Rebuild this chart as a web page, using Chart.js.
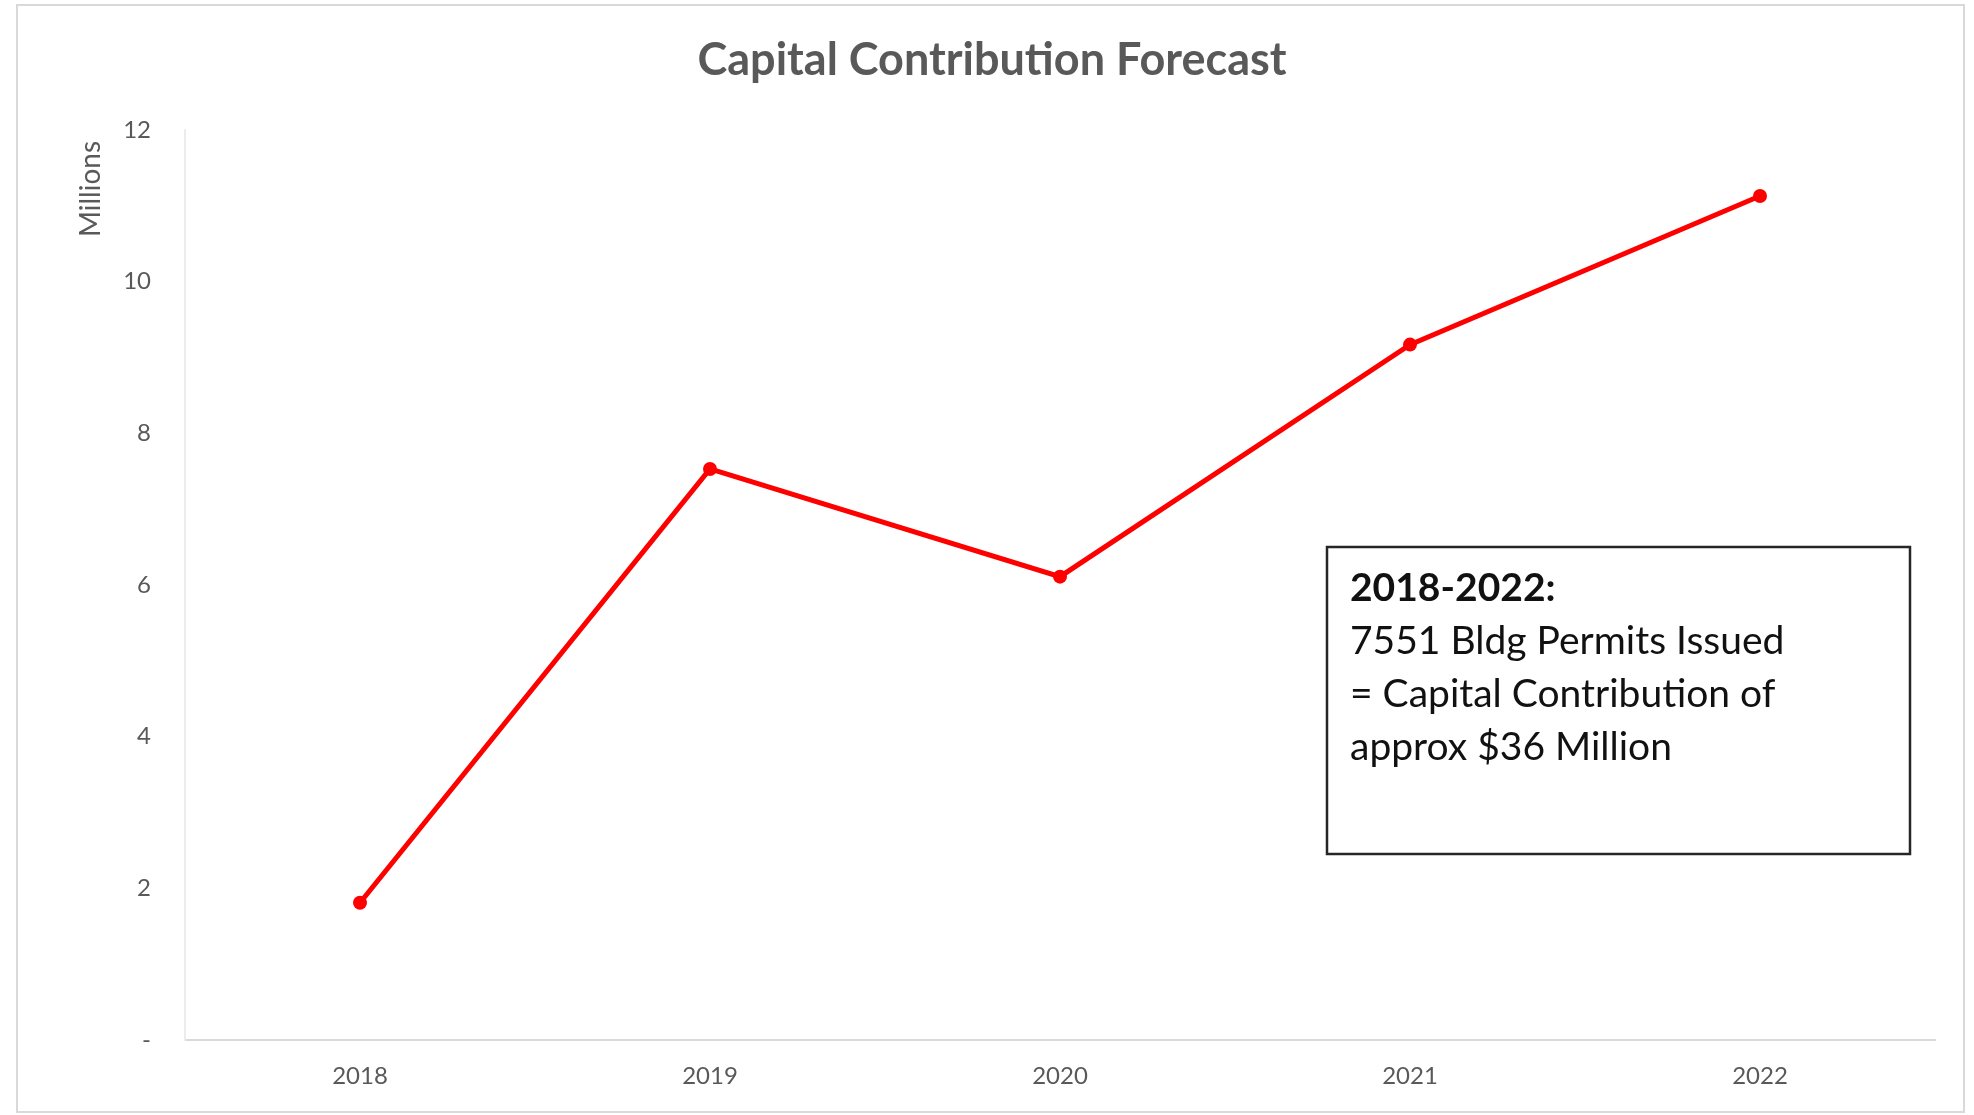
<!DOCTYPE html>
<html>
<head>
<meta charset="utf-8">
<script src="https://cdn.jsdelivr.net/npm/chart.js@4/dist/chart.umd.min.js"></script>
<style>
  html, body { margin: 0; padding: 0; background: #ffffff; }
  #wrap { width: 1974px; height: 1115px; }
</style>
</head>
<body>
<div id="wrap"><canvas id="chart" width="1974" height="1115"></canvas></div>
<script>
// chart values (millions)
var years = ["2018", "2019", "2020", "2021", "2022"];
var contribution = [1.81, 7.53, 6.11, 9.17, 11.13];
var yTicks = [0, 2, 4, 6, 8, 10, 12];

var titleText = "Capital Contribution Forecast";
var unitLabel = "Millions";
var noteLines = ["2018-2022:", "7551 Bldg Permits Issued", "= Capital Contribution of", "approx $36 Million"];

var FONT = "Lato, 'Open Sans', sans-serif";

// frame, title, unit label and the note box
var decorations = {
    id: 'decorations',
    beforeDraw: function(chart) {
        var c = chart.ctx;
        c.save();
        c.fillStyle = '#ffffff';
        c.fillRect(0, 0, chart.width, chart.height);
        c.strokeStyle = '#d9d9d9';
        c.lineWidth = 2;
        c.strokeRect(17, 5, 1947, 1107);
        c.restore();
    },
    afterDraw: function(chart) {
        var c = chart.ctx;
        c.save();
        // title
        c.fillStyle = '#595959';
        c.font = "bold 45px " + FONT;
        c.textAlign = 'center';
        c.textBaseline = 'middle';
        c.fillText(titleText, 992, 60);

        // display unit label
        c.save();
        c.translate(91, 189);
        c.rotate(-Math.PI / 2);
        c.font = "28px " + FONT;
        c.fillText(unitLabel, 0, 0);
        c.restore();

        // note box
        c.strokeStyle = '#262626';
        c.lineWidth = 2.5;
        c.strokeRect(1327, 547, 583, 307);
        c.fillStyle = '#111111';
        c.textAlign = 'left';
        for (var i = 0; i < noteLines.length; i++) {
            c.font = (i === 0 ? "bold " : "") + "39px " + FONT;
            c.fillText(noteLines[i], 1350, 588 + i * 53);
        }
        c.restore();
    }
};

var ctx = document.getElementById("chart").getContext('2d');
var mychart = new Chart(ctx, {
    type: 'line',
    data: {
        labels: years,
        datasets: [{
            label: "Capital Contribution",
            data: contribution,
            fill: false,
            borderColor: '#ff0000',
            backgroundColor: '#ff0000',
            borderWidth: 5,
            pointRadius: 7,
            pointBorderWidth: 0,
            tension: 0
        }]
    },
    options: {
        responsive: false,
        animation: false,
        layout: { padding: { top: 130, right: 39, bottom: 0, left: 0 } },
        plugins: {
            legend: { display: false },
            title: { display: false },
            tooltip: { enabled: false }
        },
        scales: {
            x: {
                offset: true,
                grid: { display: false, drawTicks: false },
                border: { display: true, color: '#d9d9d9', width: 2 },
                ticks: {
                    color: '#595959',
                    font: { family: FONT, size: 24 },
                    padding: 22,
                    maxRotation: 0
                },
                afterFit: function(scale) { scale.height = 75; }
            },
            y: {
                min: 0,
                max: 12,
                grid: { display: false, drawTicks: false },
                border: { display: true, color: '#ececec', width: 2 },
                afterBuildTicks: function(scale) {
                    scale.ticks = yTicks.map(function(v) { return { value: v }; });
                },
                ticks: {
                    color: '#595959',
                    font: { family: FONT, size: 24 },
                    padding: 34,
                    callback: function(value) { return value === 0 ? '-' : value; }
                },
                afterFit: function(scale) { scale.width = 185; }
            }
        }
    },
    plugins: [decorations]
});
</script>
</body>
</html>
